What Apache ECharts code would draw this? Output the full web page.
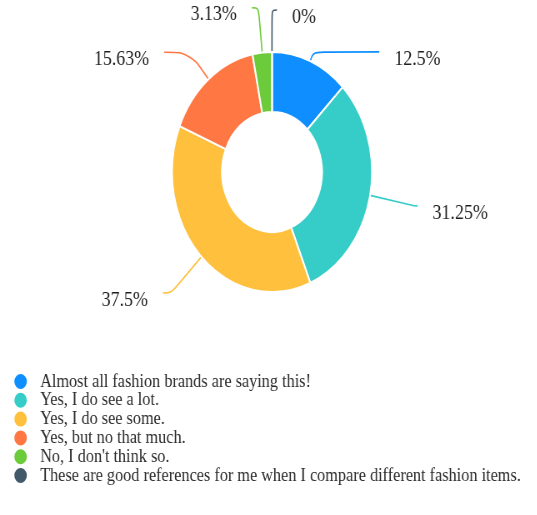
<!DOCTYPE html>
<html>
<head>
<meta charset="utf-8">
<script src="https://cdn.jsdelivr.net/npm/echarts@6/dist/echarts.min.js"></script>
<style>
  html, body { margin: 0; padding: 0; background: #fff; overflow: hidden; }
  /* the chart is drawn on a wider canvas and narrowed horizontally */
  #chart { width: 644px; height: 515px; transform: scaleX(0.8333); transform-origin: 0 0; }
</style>
</head>
<body>
<div id="chart"></div>
<script>
// Survey answers and their share of responses (percent)
const categories = [
  'Almost all fashion brands are saying this!',
  'Yes, I do see a lot.',
  'Yes, I do see some.',
  'Yes, but no that much.',
  "No, I don't think so.",
  'These are good references for me when I compare different fashion items.'
];
const percents = [12.5, 31.25, 37.5, 15.63, 3.13, 0];

// Slice colours
const colors = ['#0f8fff', '#36cdc8', '#ffc13d', '#ff7843', '#6ccb3a', '#42596a'];

// Leader line lengths per slice: [radial part, horizontal part]
const leaderLengths = [[10, 79], [54, 4], [51, 10], [35, 31], [45, 8], [42, 6]];

const seriesData = categories.map((name, i) => ({
  name: name,
  value: percents[i],
  itemStyle: { color: colors[i] },
  labelLine: { length: leaderLengths[i][0], length2: leaderLengths[i][1] }
}));

const chart = echarts.init(document.getElementById('chart'), null, { renderer: 'canvas' });
chart.setOption({
  animation: false,
  textStyle: { fontFamily: 'Liberation Serif' },
  legend: {
    orient: 'vertical',
    left: 10.2,
    top: 366.5,
    icon: 'circle',
    itemWidth: 18,
    itemHeight: 17,
    itemGap: -1.2,
    textStyle: {
      fontFamily: 'Liberation Serif',
      fontSize: 19.5,
      color: '#2b2b2b',
      padding: [0, 0, 0, 9.5]
    },
    data: categories
  },
  series: [{
    type: 'pie',
    center: [326.4, 172],
    radius: [60, 120],
    startAngle: 90,
    clockwise: true,
    avoidLabelOverlap: false,
    itemStyle: { borderColor: '#fff', borderWidth: 2 },
    label: {
      show: true,
      position: 'outside',
      // empty first line drops the value text slightly below the leader end
      formatter: '\n{c}%',
      fontFamily: 'Liberation Serif',
      fontSize: 21.5,
      lineHeight: 14,
      color: '#1e1e1e',
      distanceToLabelLine: 18
    },
    labelLine: { show: true, smooth: 0.35, lineStyle: { width: 1.6 } },
    emphasis: { disabled: true },
    data: seriesData
  }]
});
</script>
</body>
</html>
